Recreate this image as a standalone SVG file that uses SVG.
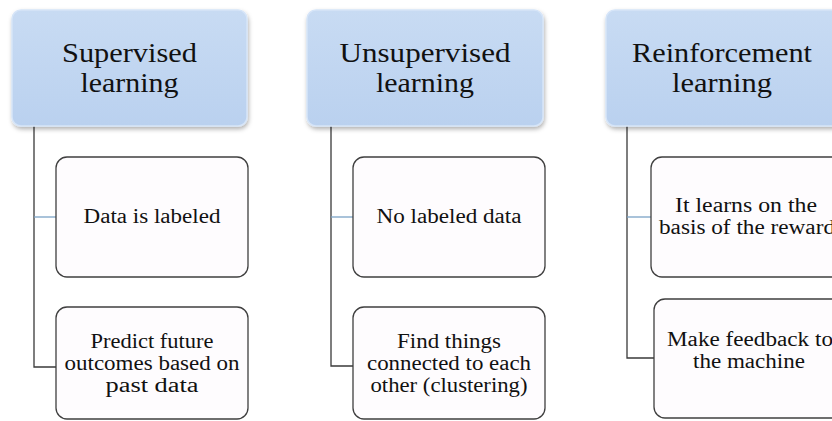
<svg xmlns="http://www.w3.org/2000/svg" width="832" height="421" viewBox="0 0 832 421">
<defs>
<linearGradient id="hg" x1="0" y1="0" x2="0" y2="1">
<stop offset="0" stop-color="#c8dbf3"/>
<stop offset="1" stop-color="#bad1ef"/>
</linearGradient>
<filter id="sh" x="-10%" y="-10%" width="125%" height="130%">
<feDropShadow dx="1" dy="2.5" stdDeviation="2" flood-color="#000" flood-opacity="0.3"/>
</filter>
</defs>
<style>
.hdr{fill:url(#hg);stroke:#d6e5f8;stroke-width:1.5;filter:url(#sh)}
.box{fill:#fefcfe;stroke:#3f3f3f;stroke-width:1.3}
text{font-family:'Liberation Serif',serif;fill:#111;text-anchor:middle}
.ht{font-size:28px}
.bt{font-size:20px}
.ln{stroke:#3a3a3a;stroke-width:1.3;fill:none}
.lb{stroke:#7aa3c6;stroke-width:1.3;fill:none}
</style>
<rect width="832" height="421" fill="#ffffff"/>
<g id="connectors">
<path class="ln" d="M34 126V367H56"/>
<path class="lb" d="M34 217H56"/>
<path class="ln" d="M331 126V366H353"/>
<path class="lb" d="M331 217H353"/>
<path class="ln" d="M627 126V358H654"/>
<path class="lb" d="M627 217H651"/>
</g>
<g id="supervised">
<rect class="hdr" x="12" y="10" width="235" height="116" rx="9"/>
<text class="ht" font-family="Liberation Serif" x="129.5" y="62" textLength="135" lengthAdjust="spacingAndGlyphs">Supervised</text>
<text class="ht" font-family="Liberation Serif" x="129.5" y="92" textLength="98" lengthAdjust="spacingAndGlyphs">learning</text>
</g>
<g id="sup-1">
<rect class="box" x="56" y="157" width="192" height="120" rx="11"/>
<text class="bt" font-family="Liberation Serif" x="152" y="223" textLength="137" lengthAdjust="spacingAndGlyphs">Data is labeled</text>
</g>
<g id="sup-2">
<rect class="box" x="56" y="307" width="192" height="112" rx="11"/>
<text class="bt" font-family="Liberation Serif" x="152" y="348" textLength="123" lengthAdjust="spacingAndGlyphs">Predict future</text>
<text class="bt" font-family="Liberation Serif" x="152" y="370" textLength="175" lengthAdjust="spacingAndGlyphs">outcomes based on</text>
<text class="bt" font-family="Liberation Serif" x="152" y="392" textLength="93" lengthAdjust="spacingAndGlyphs">past data</text>
</g>
<g id="unsupervised">
<rect class="hdr" x="307" y="10" width="236" height="116" rx="9"/>
<text class="ht" font-family="Liberation Serif" x="425" y="62" textLength="171" lengthAdjust="spacingAndGlyphs">Unsupervised</text>
<text class="ht" font-family="Liberation Serif" x="425" y="92" textLength="98" lengthAdjust="spacingAndGlyphs">learning</text>
</g>
<g id="unsup-1">
<rect class="box" x="353" y="157" width="192" height="120" rx="11"/>
<text class="bt" font-family="Liberation Serif" x="449" y="223" textLength="145" lengthAdjust="spacingAndGlyphs">No labeled data</text>
</g>
<g id="unsup-2">
<rect class="box" x="353" y="307" width="192" height="112" rx="11"/>
<text class="bt" font-family="Liberation Serif" x="449" y="348" textLength="104" lengthAdjust="spacingAndGlyphs">Find things</text>
<text class="bt" font-family="Liberation Serif" x="449" y="370" textLength="164" lengthAdjust="spacingAndGlyphs">connected to each</text>
<text class="bt" font-family="Liberation Serif" x="449" y="392" textLength="157" lengthAdjust="spacingAndGlyphs">other (clustering)</text>
</g>
<g id="reinforcement">
<rect class="hdr" x="606" y="10" width="236" height="116" rx="9"/>
<text class="ht" font-family="Liberation Serif" x="722" y="62" textLength="180" lengthAdjust="spacingAndGlyphs">Reinforcement</text>
<text class="ht" font-family="Liberation Serif" x="722" y="92" textLength="100" lengthAdjust="spacingAndGlyphs">learning</text>
</g>
<g id="reinf-1">
<rect class="box" x="651" y="157" width="192" height="120" rx="11"/>
<text class="bt" font-family="Liberation Serif" x="746" y="212" textLength="142" lengthAdjust="spacingAndGlyphs">It learns on  the</text>
<text class="bt" font-family="Liberation Serif" x="747" y="234" textLength="176" lengthAdjust="spacingAndGlyphs">basis of the reward</text>
</g>
<g id="reinf-2">
<rect class="box" x="654" y="299" width="192" height="119" rx="11"/>
<text class="bt" font-family="Liberation Serif" x="750" y="346" textLength="166" lengthAdjust="spacingAndGlyphs">Make feedback to</text>
<text class="bt" font-family="Liberation Serif" x="749" y="368" textLength="112" lengthAdjust="spacingAndGlyphs">the machine</text>
</g>
</svg>
